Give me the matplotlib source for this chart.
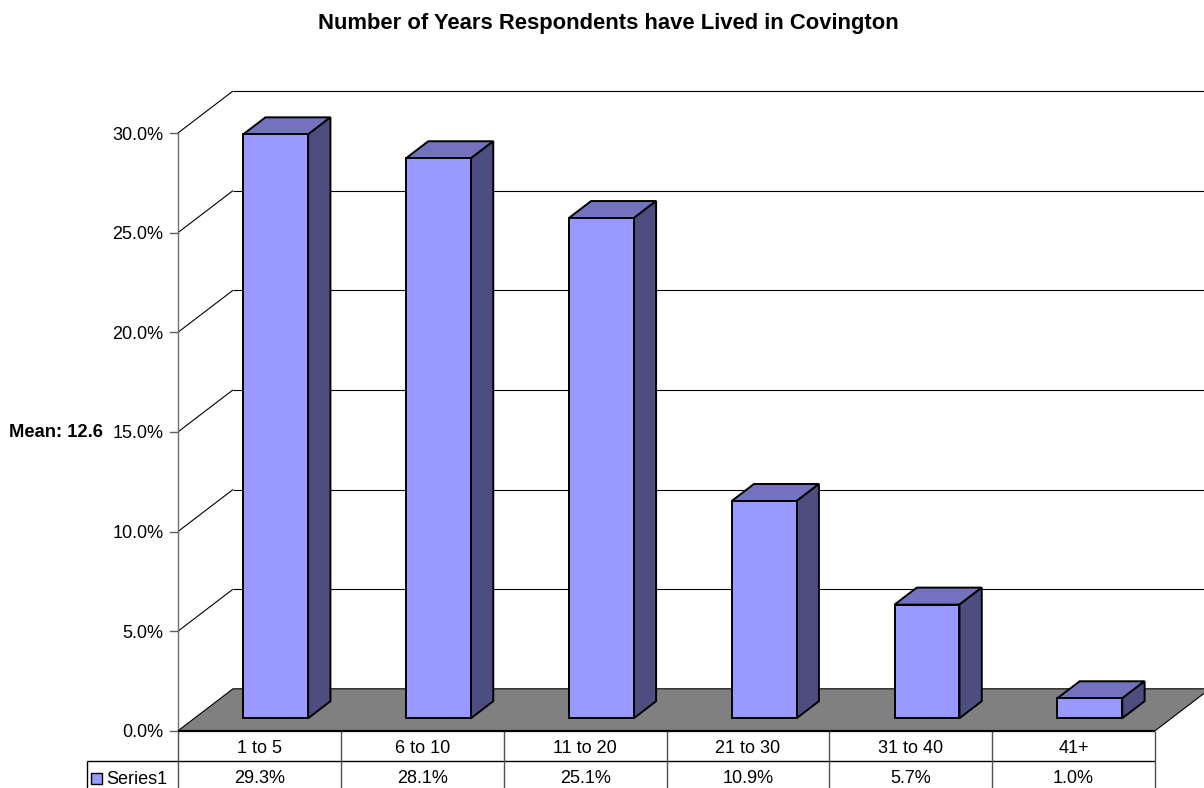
from matplotlib import pyplot as plt
from matplotlib.patches import Polygon, Rectangle

categories = ['1 to 5', '6 to 10', '11 to 20', '21 to 30', '31 to 40', '41+']
values = [29.3, 28.1, 25.1, 10.9, 5.7, 1.0]
value_labels = ['29.3%', '28.1%', '25.1%', '10.9%', '5.7%', '1.0%']
y_ticks = [0, 5, 10, 15, 20, 25, 30]
series_name = 'Series1'

plt.rcParams['font.family'] = ['Liberation Sans', 'DejaVu Sans']

W, H = 1204, 788
fig = plt.figure(figsize=(W / 100, H / 100), dpi=100)
# axes covers the front plane of the 3d box
x0, x1, y0, y1 = 178, 1155, 730.8, 133.0
ax = fig.add_axes([x0 / W, 1 - y0 / H, (x1 - x0) / W, (y0 - y1) / H])
ax.set_xlim(0, 6)
ax.set_ylim(0, 30)
ax.axis('off')

cat_px = (x1 - x0) / 6
pct_px = (y0 - y1) / 30
DX = 55 / cat_px
DY = 42 / pct_px
FS = 13


def proj(x, y, d):
    return (x + d * DX, y + d * DY)


def face(pts, color, z, lw=1.4, edge='black'):
    ax.add_patch(Polygon([proj(*p) for p in pts], closed=True, facecolor=color,
                         edgecolor=edge, linewidth=lw, zorder=z, clip_on=False,
                         joinstyle='miter'))


def line(xs, ys, z=2, color='black', lw=0.8):
    ax.plot(xs, ys, color=color, linewidth=lw, zorder=z, clip_on=False,
            solid_capstyle='butt')


# floor
face([(0, 0, 0), (6, 0, 0), (6, 0, 1), (0, 0, 1)], '#808080', 1, lw=0.8)
line([0, 6], [0, 0], z=3, lw=1.6)

# walls
for t in y_ticks:
    a = proj(0, t, 0)
    b = proj(0, t, 1)
    c = proj(6, t, 1)
    if t > 0:
        line([a[0], b[0]], [a[1], b[1]])
        line([b[0], c[0]], [b[1], c[1]])
    ax.plot([-8 / cat_px, 0], [t, t], color='#606060', linewidth=1.0, clip_on=False, zorder=2)
    ax.text(-14.5 / cat_px, t, '%.1f%%' % t, ha='right', va='center_baseline', fontsize=FS, color='black')

# bars
B_L, B_W = 0.299, 0.399
D_F, D_B = 0.30, 0.705
for i, v in enumerate(values):
    l = i + B_L
    r = l + B_W
    face([(l, v, D_F), (r, v, D_F), (r, v, D_B), (l, v, D_B)], '#7272BE', 5)
    face([(r, 0, D_F), (r, 0, D_B), (r, v, D_B), (r, v, D_F)], '#4D4D80', 5)
    face([(l, 0, D_F), (r, 0, D_F), (r, v, D_F), (l, v, D_F)], '#9999FF', 6)

# data table under the chart, cut by the bottom of the figure
row1 = -30 / pct_px
row2 = -(788 - y0) / pct_px
line([-91 / cat_px, 6], [row1, row1], lw=1.0)
line([-91 / cat_px, -91 / cat_px], [row1, row2], lw=1.0)
for i in range(7):
    line([i, i], [0, row2], color='#505050', lw=1.0)
line([0, 0], [0, 30], color='#707070', lw=1.0)
for i in range(6):
    ax.text(i + 0.5, -15.5 / pct_px, categories[i], ha='center', va='center_baseline', fontsize=FS)
    ax.text(i + 0.5, -46 / pct_px, value_labels[i], ha='center', va='center_baseline', fontsize=FS,
            clip_on=False)
ax.add_patch(Rectangle((-87 / cat_px, -53 / pct_px), 11 / cat_px, 11 / pct_px, facecolor='#9999FF',
                       edgecolor='black', linewidth=1.0, clip_on=False, zorder=4))
ax.text(-72 / cat_px, -47 / pct_px, series_name, ha='left', va='center_baseline', fontsize=FS)

fig.text(608 / W, 1 - 21 / H, 'Number of Years Respondents have Lived in Covington', ha='center',
         va='center_baseline', fontsize=15.8, fontweight='bold')
fig.text(9 / W, 1 - 431 / H, 'Mean: 12.6', ha='left', va='center_baseline', fontsize=13.2, fontweight='bold')

fig.savefig('out.png', dpi=100)
